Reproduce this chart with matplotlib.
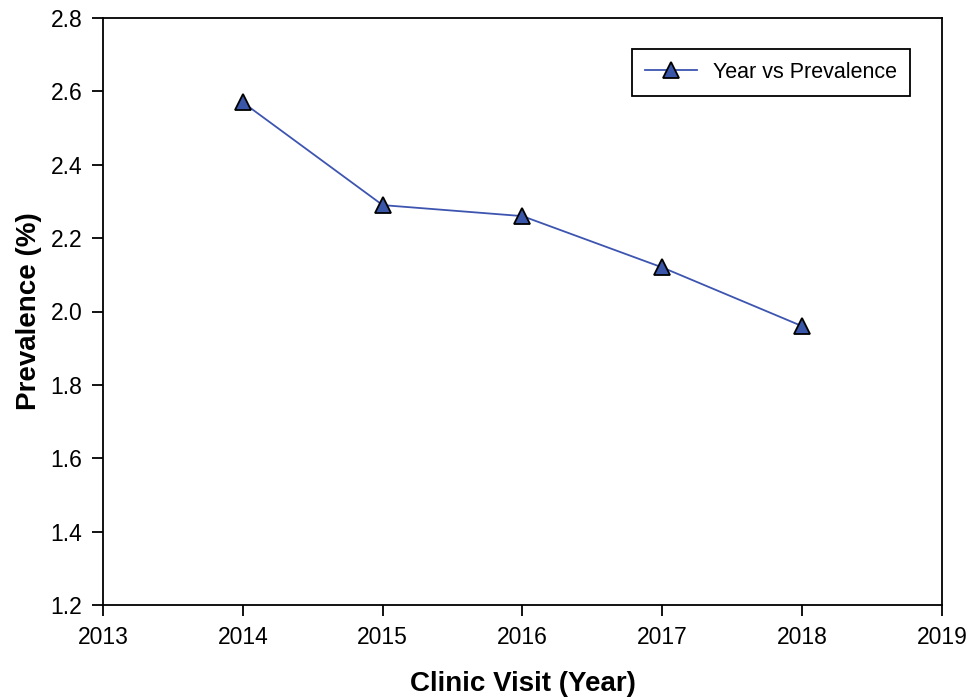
import matplotlib
matplotlib.use("Agg")
import matplotlib.pyplot as plt

years = [2014, 2015, 2016, 2017, 2018]
prevalence = [2.57, 2.29, 2.26, 2.12, 1.96]
xticks = [2013, 2014, 2015, 2016, 2017, 2018, 2019]
yticks = [1.2, 1.4, 1.6, 1.8, 2.0, 2.2, 2.4, 2.6, 2.8]

plt.rcParams['font.family'] = ['Liberation Sans', 'DejaVu Sans']

fig = plt.figure(figsize=(9.71, 7.0), dpi=100)
ax = fig.add_axes([103/971, 1-605/700, (942-103)/971, (605-18)/700])

ax.plot(years, prevalence, color='#3D55B0', lw=1.3, marker='^', markersize=11,
        markerfacecolor='#3A56A8', markeredgecolor='black', markeredgewidth=1.3,
        label='Year vs Prevalence')

ax.set_xlim(2013, 2019)
ax.set_ylim(1.2, 2.8)
ax.set_xticks(xticks)
ax.set_yticks(yticks)
ax.set_yticklabels(['%.1f' % v for v in yticks])
ax.tick_params(direction='out', length=8, width=1.3, labelsize=16.5, pad=7)
for s in ax.spines.values():
    s.set_linewidth(1.3)

ax.set_xlabel('Clinic Visit (Year)', fontsize=20, fontweight='bold', labelpad=16)
ax.set_ylabel('Prevalence (%)', fontsize=20, fontweight='bold', labelpad=6)

leg = ax.legend(loc='upper right', bbox_to_anchor=(0.962, 0.947), fontsize=15.5,
                fancybox=False, framealpha=1, edgecolor='black', handlelength=2.4,
                borderpad=0.6, handletextpad=0.75, borderaxespad=0)
leg.get_frame().set_linewidth(1.3)

fig.savefig('out.png', dpi=100)
